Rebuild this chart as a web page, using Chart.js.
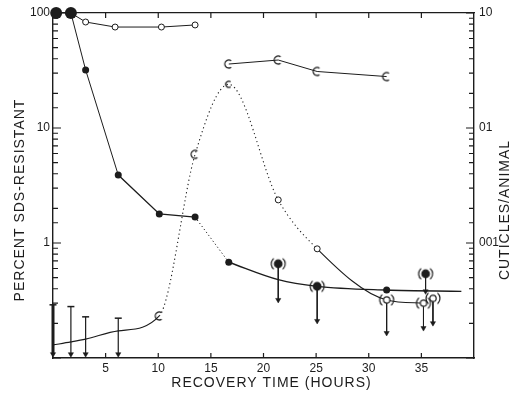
<!DOCTYPE html>
<html>
<head>
<meta charset="utf-8">
<title>SDS-resistant cuticles during recovery</title>
<script src="https://cdn.jsdelivr.net/npm/chart.js@4.4.0/dist/chart.umd.min.js"></script>
<style>
  html, body { margin: 0; padding: 0; background: #fff; }
  #wrap { width: 516px; height: 393px; }
</style>
</head>
<body>
<div id="wrap"><canvas id="chart" width="516" height="393"></canvas></div>
<script>
// percent SDS-resistant (left axis), filled circles
var sdsHours   = [0.3, 1.7, 3.1, 6.2, 10.1, 13.5, 16.7];
var sdsPercent = [100, 100, 32, 3.9, 1.79, 1.68, 0.68];
// smooth tail of the same curve
var sdsTailHours   = [16.7, 21.4, 25.1, 31.7, 38.8];
var sdsTailPercent = [0.68, 0.48, 0.42, 0.39, 0.38];
// upper limits "(●)" with arrows
var sdsLimHours   = [21.4, 25.1, 35.4];
var sdsLimPercent = [0.66, 0.42, 0.54];
var sdsLimArrow   = [0.32, 0.21, 0.38];

// open circles near the top (left axis)
var openHours   = [1.7, 3.1, 5.9, 10.3, 13.5];
var openPercent = [100, 83.5, 75.5, 75.5, 78.7];

// "C" marks near the top (right axis)
var cutHours    = [16.7, 21.4, 25.1, 31.7];
var cutPerAnimal = [3.6, 3.9, 3.1, 2.8];

// resistant cuticles / animal (right axis)
var resHours    = [0, 1.7, 3.1, 6.2, 10.1, 13.5, 16.7, 21.4, 25.1, 31.7, 35.2];
var resPerAnimal = [0.013, 0.0138, 0.0146, 0.0172, 0.0232, 0.59, 2.4, 0.237, 0.089, 0.032, 0.030];
// upper limits "(○)" with arrows
var resLimHours  = [31.7, 35.2, 36.1];
var resLimValue  = [0.032, 0.030, 0.033];
var resLimArrow  = [0.0165, 0.0182, 0.0201];

// error bars at the start
var errHours = [0, 1.7, 3.1, 6.2];
var errTop   = [0.029, 0.028, 0.0228, 0.0222];
var errEnd   = [0.0108, 0.0108, 0.0108, 0.0108];

var hourTicks = [5, 10, 15, 20, 25, 30, 35];
var leftLabels  = { '2': '100', '1': '10', '0': '1' };
var rightLabels = { '1': '10', '0': '01', '-1': '001' };

var INK = '#1c1c1c';

function pts(xs, ys) {
  return xs.map(function (x, i) { return { x: x, y: ys[i] }; });
}
function bars(xs, from, to) {
  var out = [];
  xs.forEach(function (x, i) {
    out.push({ x: x, y: from[i] }, { x: x, y: to[i] }, { x: x, y: null });
  });
  return out;
}
function decade(v) {
  var l = Math.log10(v);
  return Math.abs(l - Math.round(l)) < 1e-6 ? String(Math.round(l)) : null;
}

// marker shapes
function cMark(r) {
  var c = document.createElement('canvas');
  c.width = c.height = 2 * r + 4;
  var g = c.getContext('2d');
  g.strokeStyle = INK; g.lineWidth = 1.3;
  g.beginPath();
  g.arc(r + 2, r + 2, r, Math.PI * 0.3, Math.PI * 1.7);
  g.stroke();
  return c;
}
function parenMark(filled) {
  var c = document.createElement('canvas');
  c.width = 18; c.height = 14;
  var g = c.getContext('2d');
  g.strokeStyle = INK; g.fillStyle = filled ? INK : '#fff'; g.lineWidth = 1.2;
  g.beginPath(); g.arc(9, 7, filled ? 3.8 : 3.2, 0, Math.PI * 2);
  g.fill(); g.stroke();
  g.beginPath(); g.arc(9, 7, 7, Math.PI * 0.72, Math.PI * 1.28); g.stroke();
  g.beginPath(); g.arc(9, 7, 7, -Math.PI * 0.28, Math.PI * 0.28); g.stroke();
  return c;
}
var C4 = cMark(4), C3 = cMark(3);
var PF = parenMark(true), PO = parenMark(false);

var inTicks = {
  id: 'inTicks',
  afterDraw: function (chart) {
    var ctx = chart.ctx, a = chart.chartArea, s = chart.scales;
    ctx.save();
    ctx.strokeStyle = INK; ctx.lineWidth = 1.2;
    ctx.beginPath();
    hourTicks.forEach(function (h) {
      var px = s.x.getPixelForValue(h);
      ctx.moveTo(px, a.bottom); ctx.lineTo(px, a.bottom - 5);
      ctx.moveTo(px, a.top); ctx.lineTo(px, a.top + 5);
    });
    s.y.ticks.forEach(function (t) {
      var py = s.y.getPixelForValue(t.value);
      ctx.moveTo(a.left, py); ctx.lineTo(a.left + (decade(t.value) ? 8 : 5), py);
    });
    s.y2.ticks.forEach(function (t) {
      var py = s.y2.getPixelForValue(t.value);
      ctx.moveTo(a.right, py); ctx.lineTo(a.right - (decade(t.value) ? 8 : 5), py);
    });
    ctx.stroke();

    // axis titles
    ctx.fillStyle = INK;
    ctx.font = '14px "Liberation Sans", Arial, sans-serif';
    ctx.letterSpacing = '1px';
    ctx.textAlign = 'center';
    ctx.textBaseline = 'middle';
    ctx.fillText('RECOVERY TIME (HOURS)', (a.left + a.right) / 2 + 8, a.bottom + 25);
    ctx.translate(20, 200);
    ctx.rotate(-Math.PI / 2);
    ctx.fillText('PERCENT SDS-RESISTANT', 0, 0);
    ctx.rotate(Math.PI / 2);
    ctx.translate(485, 10);
    ctx.rotate(-Math.PI / 2);
    ctx.fillText('CUTICLES/ANIMAL', 0, 0);
    ctx.restore();
  }
};

new Chart(document.getElementById('chart'), {
  type: 'line',
  data: {
    datasets: [
      {
        label: 'SDS-resistant',
        data: pts(sdsHours, sdsPercent),
        yAxisID: 'y',
        borderColor: INK, backgroundColor: INK, borderWidth: 1,
        pointRadius: [6, 6, 3.5, 3.5, 3.5, 3.5, 3.5],
        pointBorderWidth: 0,
        segment: {
          borderDash: function (c) { return c.p0DataIndex === 5 ? [1.2, 2.5] : undefined; },
          borderWidth: function (c) { return (c.p0DataIndex === 3 || c.p0DataIndex === 4) ? 1.4 : undefined; }
        },
        clip: false, order: 1
      },
      {
        label: 'SDS-resistant tail',
        data: pts(sdsTailHours, sdsTailPercent),
        yAxisID: 'y',
        borderColor: INK, borderWidth: 1.4,
        cubicInterpolationMode: 'monotone',
        pointRadius: [0, 0, 3.5, 3.5, 0],
        pointBackgroundColor: INK, pointBorderWidth: 0,
        clip: false, order: 2
      },
      {
        label: 'SDS-resistant limits',
        data: pts(sdsLimHours, sdsLimPercent),
        yAxisID: 'y',
        showLine: false,
        pointStyle: PF, pointRadius: 4,
        clip: false, order: 0
      },
      {
        label: 'open circles',
        data: pts(openHours, openPercent),
        yAxisID: 'y',
        borderColor: INK, borderWidth: 1,
        pointRadius: [0, 3, 3, 3, 3],
        pointBackgroundColor: '#fff', pointBorderColor: INK, pointBorderWidth: 1,
        clip: false, order: 3
      },
      {
        label: 'C marks',
        data: pts(cutHours, cutPerAnimal),
        yAxisID: 'y2',
        borderColor: INK, borderWidth: 1,
        pointStyle: C4, pointRadius: 4,
        clip: false, order: 3
      },
      {
        label: 'cuticles/animal',
        data: pts(resHours, resPerAnimal),
        yAxisID: 'y2',
        borderColor: INK, borderWidth: 1.1,
        cubicInterpolationMode: 'monotone',
        pointStyle: ['circle', 'circle', 'circle', 'circle', C4, C4, C3, 'circle', 'circle', 'circle', 'circle'],
        pointRadius: [0, 0, 0, 0, 4, 4, 3, 3, 3, 0, 0],
        pointBackgroundColor: '#fff', pointBorderColor: INK, pointBorderWidth: 1,
        segment: {
          borderDash: function (c) { return (c.p0DataIndex >= 4 && c.p0DataIndex <= 7) ? [1.2, 3] : undefined; }
        },
        clip: false, order: 4
      },
      {
        label: 'cuticle limits',
        data: pts(resLimHours, resLimValue),
        yAxisID: 'y2',
        showLine: false,
        pointStyle: PO, pointRadius: 4,
        clip: false, order: 0
      },
      {
        label: 'arrow shafts',
        data: bars(sdsLimHours, sdsLimPercent, sdsLimArrow),
        yAxisID: 'y',
        borderColor: INK, borderWidth: 1, pointRadius: 0,
        clip: false, order: 5
      },
      {
        label: 'arrow shafts 2',
        data: bars(resLimHours, resLimValue, resLimArrow),
        yAxisID: 'y2',
        borderColor: INK, borderWidth: 1, pointRadius: 0,
        clip: false, order: 5
      },
      {
        label: 'error bars',
        data: bars(errHours, errTop, errEnd),
        yAxisID: 'y2',
        borderColor: INK, pointRadius: 0,
        segment: {
          borderWidth: function (c) { return c.p0DataIndex === 0 ? 3 : 1.2; }
        },
        clip: false, order: 5
      },
      {
        label: 'error caps',
        data: pts(errHours, errTop),
        yAxisID: 'y2',
        showLine: false,
        pointStyle: 'line', pointRadius: 3.5, pointBorderWidth: 1.5,
        pointBorderColor: INK,
        clip: false, order: 5
      },
      {
        label: 'arrow heads',
        data: pts(sdsLimHours, sdsLimArrow),
        yAxisID: 'y',
        showLine: false,
        pointStyle: 'triangle', rotation: 180, pointRadius: 3,
        pointBackgroundColor: INK, pointBorderColor: INK, pointBorderWidth: 0.5,
        clip: false, order: 5
      },
      {
        label: 'arrow heads 2',
        data: pts(resLimHours, resLimArrow).concat(pts(errHours, errEnd)),
        yAxisID: 'y2',
        showLine: false,
        pointStyle: 'triangle', rotation: 180, pointRadius: 3,
        pointBackgroundColor: INK, pointBorderColor: INK, pointBorderWidth: 0.5,
        clip: false, order: 5
      }
    ]
  },
  options: {
    responsive: false,
    animation: false,
    layout: { padding: 0 },
    plugins: { legend: { display: false }, tooltip: { enabled: false } },
    scales: {
      x: {
        type: 'linear', position: 'bottom', min: 0, max: 40,
        afterBuildTicks: function (s) { s.ticks = hourTicks.map(function (v) { return { value: v }; }); },
        ticks: { color: INK, padding: 3, font: { family: '"Liberation Sans", Arial, sans-serif', size: 12 } },
        grid: { drawOnChartArea: false, drawTicks: false },
        border: { display: true, color: INK, width: 1.4 },
        afterFit: function (s) { s.height = 35; }
      },
      x2: {
        type: 'linear', position: 'top', min: 0, max: 40,
        ticks: { display: false },
        grid: { drawOnChartArea: false, drawTicks: false },
        border: { display: true, color: INK, width: 1.2 },
        afterFit: function (s) { s.height = 13; }
      },
      y: {
        type: 'logarithmic', position: 'left', min: 0.1, max: 100,
        ticks: {
          color: INK, padding: 3, autoSkip: false,
          font: { family: '"Liberation Sans", Arial, sans-serif', size: 12 },
          callback: function (v) { var d = decade(v); return d && leftLabels[d] ? leftLabels[d] : ''; }
        },
        grid: { drawOnChartArea: false, drawTicks: false },
        border: { display: true, color: INK, width: 1.4 },
        afterFit: function (s) { s.width = 53; }
      },
      y2: {
        type: 'logarithmic', position: 'right', min: 0.01, max: 10,
        ticks: {
          color: INK, padding: 5, autoSkip: false,
          font: { family: '"Liberation Sans", Arial, sans-serif', size: 12 },
          callback: function (v) { var d = decade(v); return d && rightLabels[d] ? rightLabels[d] : ''; }
        },
        grid: { drawOnChartArea: false, drawTicks: false },
        border: { display: true, color: INK, width: 1.4 },
        afterFit: function (s) { s.width = 42; }
      }
    }
  },
  plugins: [inTicks]
});
</script>
</body>
</html>
